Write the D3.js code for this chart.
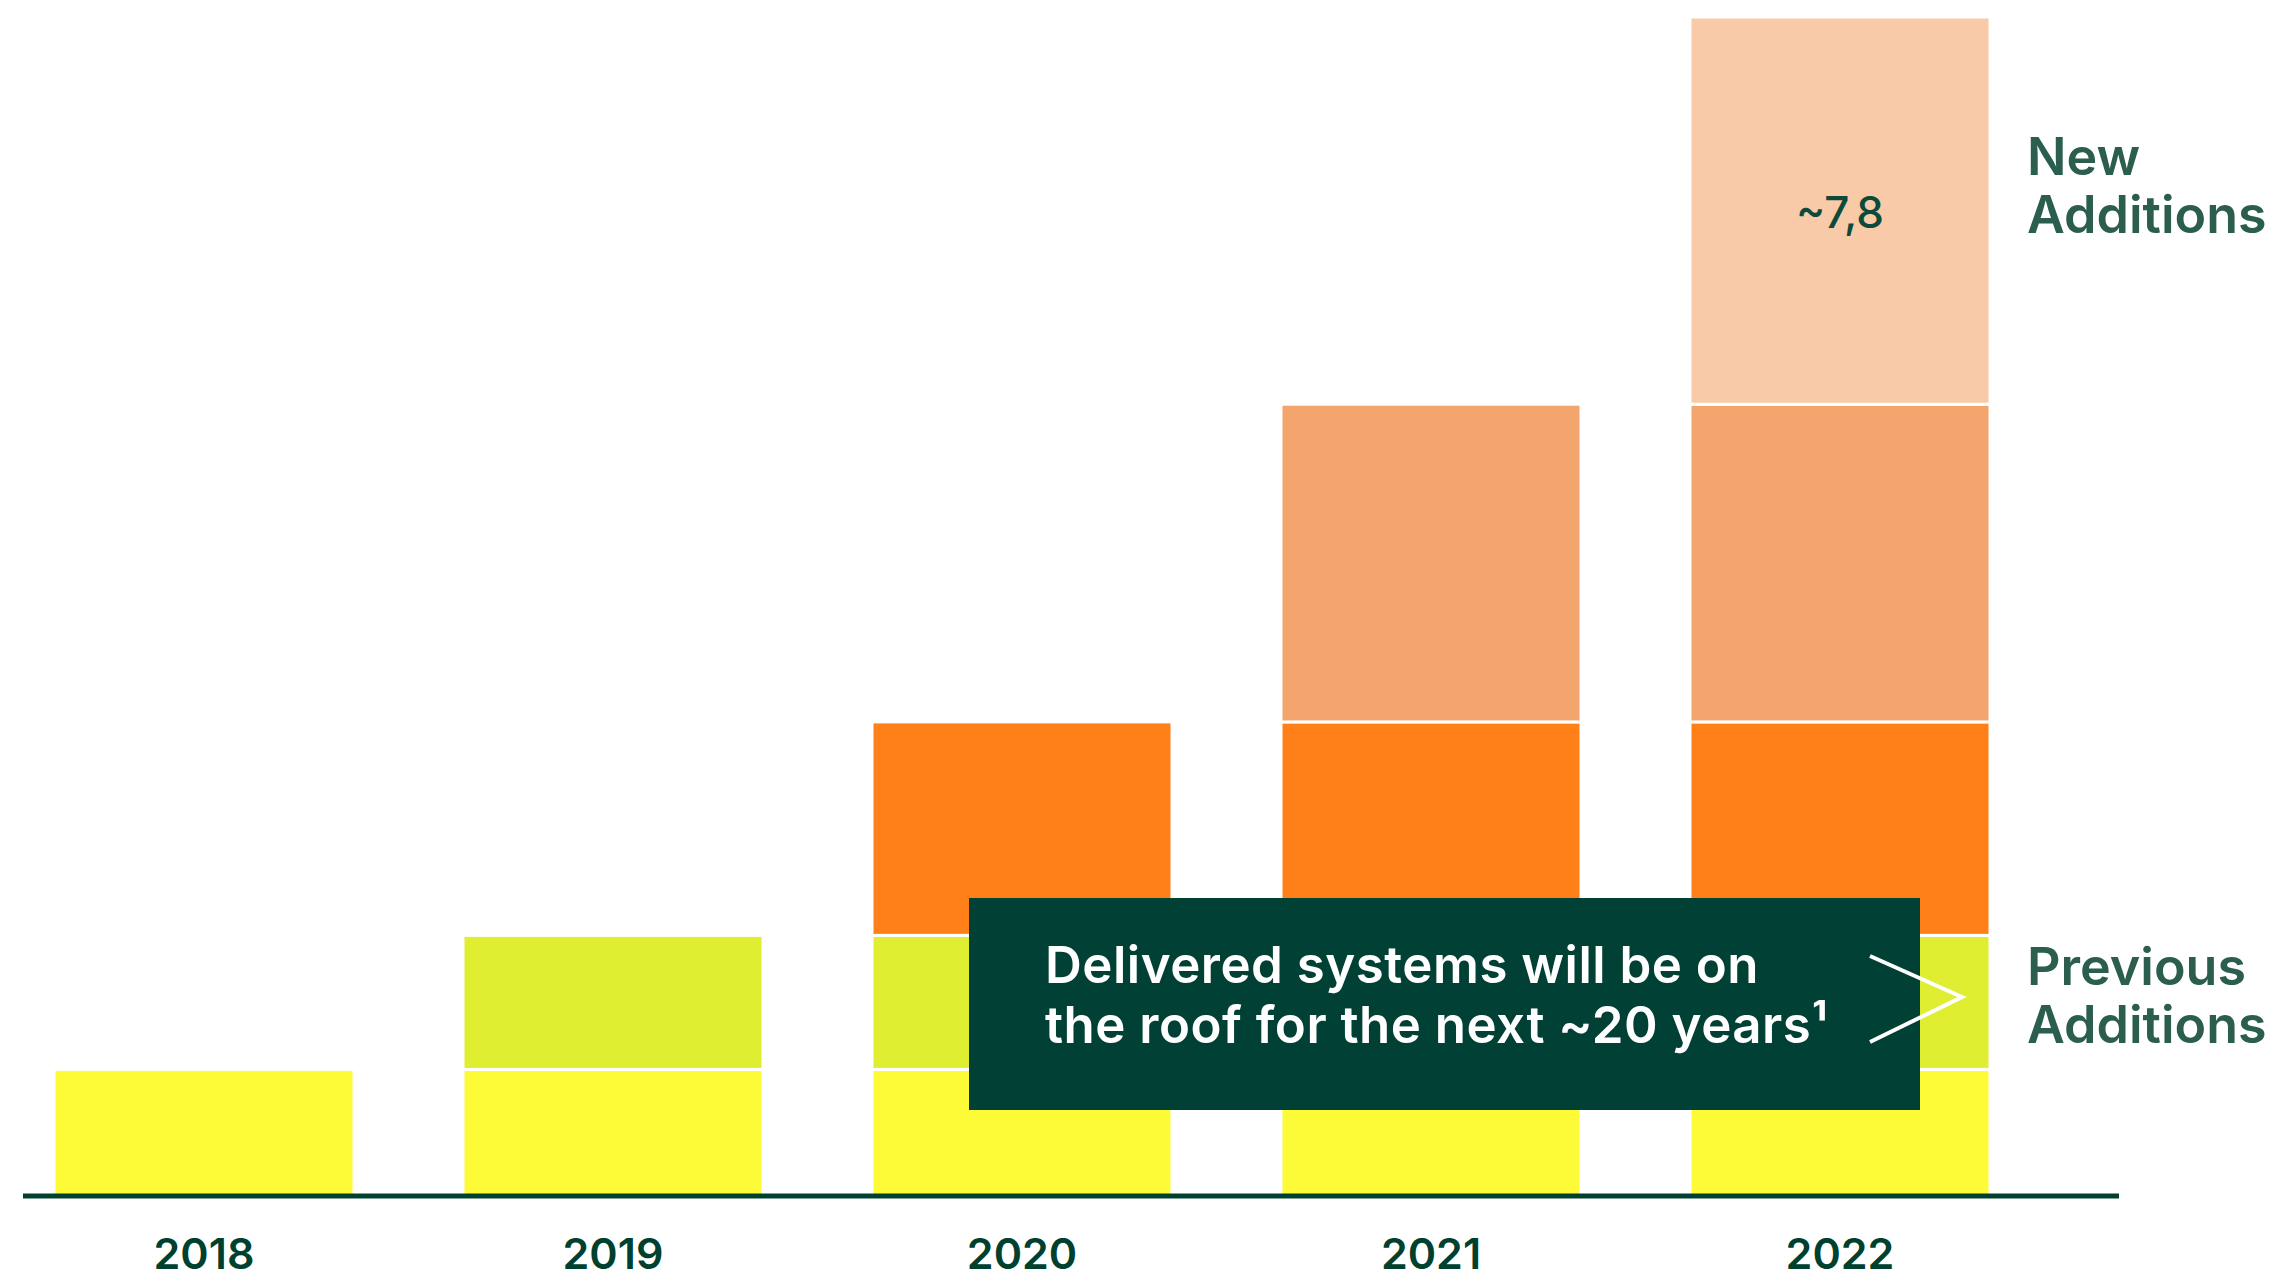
<!DOCTYPE html>
<html>
<head>
<meta charset="utf-8">
<script src="https://cdn.jsdelivr.net/npm/d3@7/dist/d3.min.js"></script>
<style>
  html, body { margin: 0; padding: 0; background: #fff; }
  svg { display: block; }
</style>
</head>
<body>
<svg id="chart" width="2275" height="1278"></svg>
<script>
// ---- data ----
const years = ["2018", "2019", "2020", "2021", "2022"];
// cohorts of systems added per year (stay on the roof in later years)
const cohorts = ["add2018", "add2019", "add2020", "add2021", "add2022"];
const cohortValues = [2.55, 2.7, 4.3, 6.4, 7.8];
const cohortColors = ["#fdfb37", "#dfee30", "#ff7f18", "#f4a56e", "#f9caa7"];
const newAdditionLabel = "~7,8";
const legendNew = ["New", "Additions"];
const legendPrev = ["Previous", "Additions"];
const calloutLines = ["Delivered systems will be on", "the roof for the next ~20 years\u00B9"];

// ---- layout ----
const baseY = 1196;
const svg = d3.select("#chart");
const FONT = "Inter, 'Liberation Sans', Arial, sans-serif";

const x = d3.scaleBand().domain(years).range([54, 1990]).paddingInner(0.2665).paddingOuter(0);
const y = d3.scaleLinear().domain([0, 23.75]).range([baseY, 17]);

// build stacked rows: year i contains cohorts 0..i
const rows = years.map((yr, i) => {
  const r = { year: yr };
  cohorts.forEach((c, j) => r[c] = j <= i ? cohortValues[j] : 0);
  return r;
});
const series = d3.stack().keys(cohorts)(rows);

const g = svg.append("g");
series.forEach((s, j) => {
  g.selectAll(null)
    .data(s.filter(d => d[1] - d[0] > 0))
    .join("rect")
    .attr("x", d => x(d.data.year))
    .attr("width", x.bandwidth())
    .attr("y", d => y(d[1]))
    .attr("height", d => y(d[0]) - y(d[1]))
    .attr("fill", cohortColors[j])
    .attr("stroke", "#ffffff")
    .attr("stroke-width", 3);
});

// label of new additions in 2022
const last = series[series.length - 1].find(d => d.data.year === "2022");
svg.append("text")
  .attr("x", x("2022") + x.bandwidth() / 2)
  .attr("y", (y(last[0]) + y(last[1])) / 2 + 17)
  .attr("text-anchor", "middle")
  .attr("font-family", FONT)
  .attr("font-size", 44)
  .attr("font-weight", 500)
  .attr("fill", "#0e4a3c")
  .text(newAdditionLabel);

// x axis
const axis = d3.axisBottom(x).tickSize(0).tickPadding(0);
const ax = svg.append("g").attr("transform", `translate(0,${baseY})`).call(axis);
ax.select(".domain").remove();
ax.selectAll(".tick text")
  .attr("y", 73)
  .attr("dy", 0)
  .attr("font-family", FONT)
  .attr("font-size", 43)
  .attr("font-weight", 600)
  .attr("fill", "#00402f");
svg.append("line")
  .attr("x1", 23).attr("x2", 2119)
  .attr("y1", baseY).attr("y2", baseY)
  .attr("stroke", "#00402f")
  .attr("stroke-width", 5);

// callout box
svg.append("rect")
  .attr("x", 969).attr("y", 898)
  .attr("width", 951).attr("height", 212)
  .attr("fill", "#014034");
const ct = svg.append("text")
  .attr("font-family", FONT)
  .attr("font-size", 51)
  .attr("font-weight", 600)
  .attr("fill", "#ffffff")
  .attr("letter-spacing", 0.5);
calloutLines.forEach((l, i) => {
  ct.append("tspan").attr("x", 1045).attr("y", 983 + i * 60).text(l);
});

// chevron
svg.append("polyline")
  .attr("points", "1870,956 1962,997 1870,1042")
  .attr("fill", "none")
  .attr("stroke", "#ffffff")
  .attr("stroke-width", 4);

// legend labels
function legend(lines, yBase) {
  const t = svg.append("text")
    .attr("font-family", FONT)
    .attr("font-size", 52)
    .attr("font-weight", 600)
    .attr("fill", "#2b5e4f");
  lines.forEach((l, i) => t.append("tspan").attr("x", 2027).attr("y", yBase + i * 58).text(l));
}
legend(legendNew, 175);
legend(legendPrev, 985);
</script>
</body>
</html>
